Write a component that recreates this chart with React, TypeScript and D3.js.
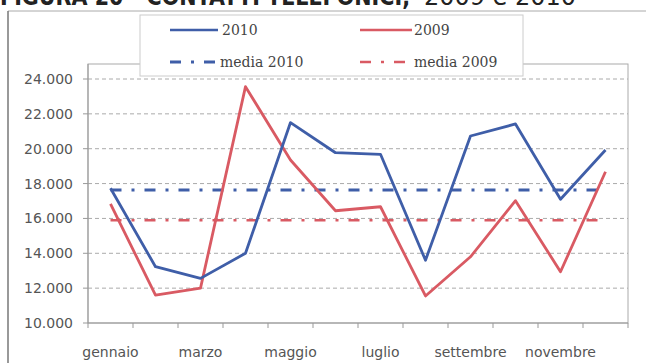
import React from "react";
import * as d3 from "d3";

const months = ["gennaio","febbraio","marzo","aprile","maggio","giugno","luglio","agosto","settembre","ottobre","novembre","dicembre"];
const shownLabels = ["gennaio","marzo","maggio","luglio","settembre","novembre"];
const values2010 = [17730,13230,12560,14000,21500,19770,19680,13600,20730,21420,17100,19930];
const values2009 = [16830,11600,12000,23560,19350,16440,16670,11550,13800,17020,12940,18680];
const media2010 = 17630;
const media2009 = 15900;
const yTicks = [10000,12000,14000,16000,18000,20000,22000,24000];

const BLUE = "#3f5ea8";
const RED = "#d95a63";

const W = 646, H = 363;
const X0 = 88, X1 = 628, YTOP = 64, YBOT = 323;

export default function App() {
  const x = d3.scaleBand<string>().domain(months).range([X0, X1]).padding(0);
  const y = d3.scaleLinear().domain([10000, 24000]).range([YBOT, 79]);
  const cx = (m: string) => (x(m) as number) + x.bandwidth() / 2;
  const line = d3.line<number>().x((_, i) => cx(months[i])).y((d) => y(d));
  const fmt = (v: number) => d3.format(",")(v).replace(/,/g, ".");
  const axisFont = "'DejaVu Sans', sans-serif";
  const legFont = "'DejaVu Serif', serif";
  const first = cx(months[0]);
  const last = cx(months[months.length - 1]);
  const bounds = months.map((m) => x(m) as number).concat([X1]);

  return (
    <svg width={W} height={H} style={{ position: "absolute", left: 0, top: 0, background: "#fff" }}>
      {/* title (clipped at top, as in the reference) */}
      <text x={0} y={5} fontFamily={axisFont} fontSize={24} fill="#222">
        <tspan fontWeight="bold" textLength={410} lengthAdjust="spacingAndGlyphs">FIGURA 20 - CONTATTI TELEFONICI,</tspan>
        <tspan x={424} textLength={152} lengthAdjust="spacingAndGlyphs">2009 e 2010</tspan>
      </text>

      {/* outer chart border */}
      <line x1={8} y1={11} x2={W} y2={11} stroke="#aaa" strokeWidth={1} />
      <line x1={8} y1={11} x2={8} y2={H} stroke="#777" strokeWidth={1.5} />

      {/* plot area */}
      <rect x={X0} y={YTOP} width={X1 - X0} height={YBOT - YTOP} fill="none" stroke="#aaa" strokeWidth={1} />

      {/* gridlines */}
      {yTicks.slice(1).map((t) => (
        <line key={t} x1={X0} x2={X1} y1={y(t)} y2={y(t)} stroke="#aaa" strokeWidth={1} strokeDasharray="4,3" />
      ))}

      {/* y axis */}
      <line x1={X0} x2={X0} y1={YTOP} y2={YBOT} stroke="#999" />
      {yTicks.map((t) => (
        <g key={t}>
          <line x1={X0 - 5} x2={X0} y1={y(t)} y2={y(t)} stroke="#999" />
          <text x={73} y={y(t) + 5} textAnchor="end" fontFamily={axisFont} fontSize={14} fill="#555">{fmt(t)}</text>
        </g>
      ))}

      {/* x axis */}
      <line x1={X0} x2={X1} y1={YBOT} y2={YBOT} stroke="#999" />
      {bounds.map((b, i) => (
        <line key={i} x1={b} x2={b} y1={YBOT} y2={YBOT + 5} stroke="#999" />
      ))}
      {shownLabels.map((m) => (
        <text key={m} x={cx(m)} y={357} textAnchor="middle" fontFamily={axisFont} fontSize={14} fill="#555">{m}</text>
      ))}

      {/* media lines */}
      <line x1={first} x2={last} y1={y(media2010)} y2={y(media2010)} stroke={BLUE} strokeWidth={3} strokeDasharray="11,10,3,10" />
      <line x1={first} x2={last} y1={y(media2009)} y2={y(media2009)} stroke={RED} strokeWidth={2.5} strokeDasharray="11,10,3,10" />

      {/* series */}
      <path d={line(values2009) as string} fill="none" stroke={RED} strokeWidth={2.8} strokeLinejoin="round" />
      <path d={line(values2010) as string} fill="none" stroke={BLUE} strokeWidth={2.8} strokeLinejoin="round" />

      {/* legend */}
      <rect x={140} y={15} width={383} height={61} fill="#fff" stroke="#ccc" strokeWidth={1} />
      <line x1={170} x2={218} y1={30} y2={30} stroke={BLUE} strokeWidth={2.5} />
      <text x={222} y={35} fontFamily={legFont} fontSize={14} fill="#444">2010</text>
      <line x1={360} x2={412} y1={30} y2={30} stroke={RED} strokeWidth={2.5} />
      <text x={414} y={35} fontFamily={legFont} fontSize={14} fill="#444">2009</text>
      <line x1={170} x2={218} y1={62} y2={62} stroke={BLUE} strokeWidth={3} strokeDasharray="11,10,3,10" />
      <text x={220} y={67} fontFamily={legFont} fontSize={14} fill="#444">media 2010</text>
      <line x1={360} x2={412} y1={62} y2={62} stroke={RED} strokeWidth={2.5} strokeDasharray="11,10,3,10" />
      <text x={414} y={67} fontFamily={legFont} fontSize={14} fill="#444">media 2009</text>
    </svg>
  );
}
